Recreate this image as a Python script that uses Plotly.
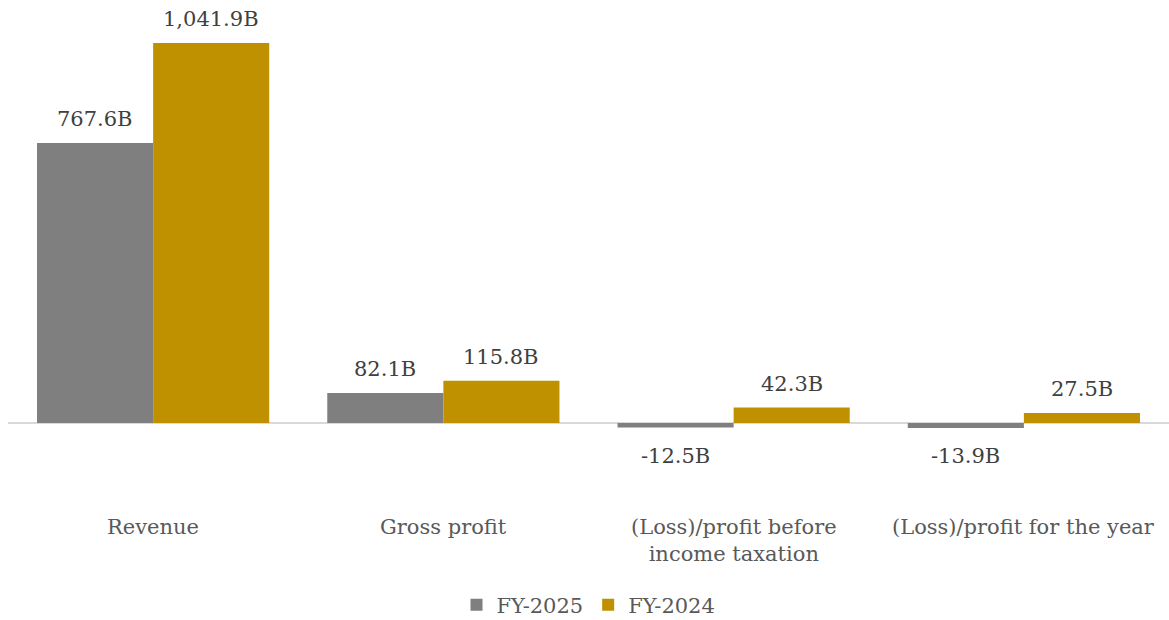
import plotly.graph_objects as go

categories = ["Revenue", "Gross profit", "(Loss)/profit before<br>income taxation", "(Loss)/profit for the year"]
fy2025 = [767.6, 82.1, -12.5, -13.9]
fy2024 = [1041.9, 115.8, 42.3, 27.5]
labels2025 = ["767.6B", "82.1B", "-12.5B", "-13.9B"]
labels2024 = ["1,041.9B", "115.8B", "42.3B", "27.5B"]

FONT = "Georgia, 'DejaVu Serif', serif"
GRAY = "#7f7f7f"
GOLD = "#bf9000"

fig = go.Figure()
fig.add_trace(go.Bar(name="FY-2025", x=categories, y=fy2025, marker=dict(color=GRAY, line=dict(width=0))))
fig.add_trace(go.Bar(name="FY-2024", x=categories, y=fy2024, marker=dict(color=GOLD, line=dict(width=0))))

annotations = []
for i, c in enumerate(categories):
    for vals, labs, xs in ((fy2025, labels2025, -58), (fy2024, labels2024, 58)):
        v = vals[i]
        annotations.append(dict(
            x=c, y=v, xref="x", yref="y", text=labs[i], showarrow=False,
            xshift=xs, yshift=10 if v >= 0 else -14,
            yanchor="bottom" if v >= 0 else "top",
            font=dict(family=FONT, size=21, color="#404040"),
        ))
    annotations.append(dict(
        x=c, y=-0.115, xref="x", yref="paper", text=c, showarrow=False,
        yanchor="top", font=dict(family=FONT, size=21, color="#595959"),
    ))

fig.update_layout(
    width=1169, height=620,
    margin=dict(l=8, r=0, t=0, b=160, autoexpand=False),
    barmode="group", bargap=0.2, bargroupgap=0,
    plot_bgcolor="white", paper_bgcolor="white",
    font=dict(family=FONT, size=20, color="#595959"),
    xaxis=dict(showticklabels=False, showgrid=False, zeroline=False, showline=False, ticks=""),
    yaxis=dict(range=[-101.4, 1159.8], visible=True, showticklabels=False, showgrid=False,
               zeroline=True, zerolinecolor="#d9d9d9", zerolinewidth=1.5, showline=False),
    legend=dict(orientation="h", x=0.5, xanchor="center", yref="container", y=1 - 605 / 620, yanchor="middle",
                font=dict(family=FONT, size=21, color="#595959"), itemwidth=30, traceorder="normal"),
    showlegend=True,
    annotations=annotations,
)

fig.write_html("out.html", config={"displayModeBar": False},
               post_script="document.body.style.margin='0';document.body.style.overflow='hidden';")
